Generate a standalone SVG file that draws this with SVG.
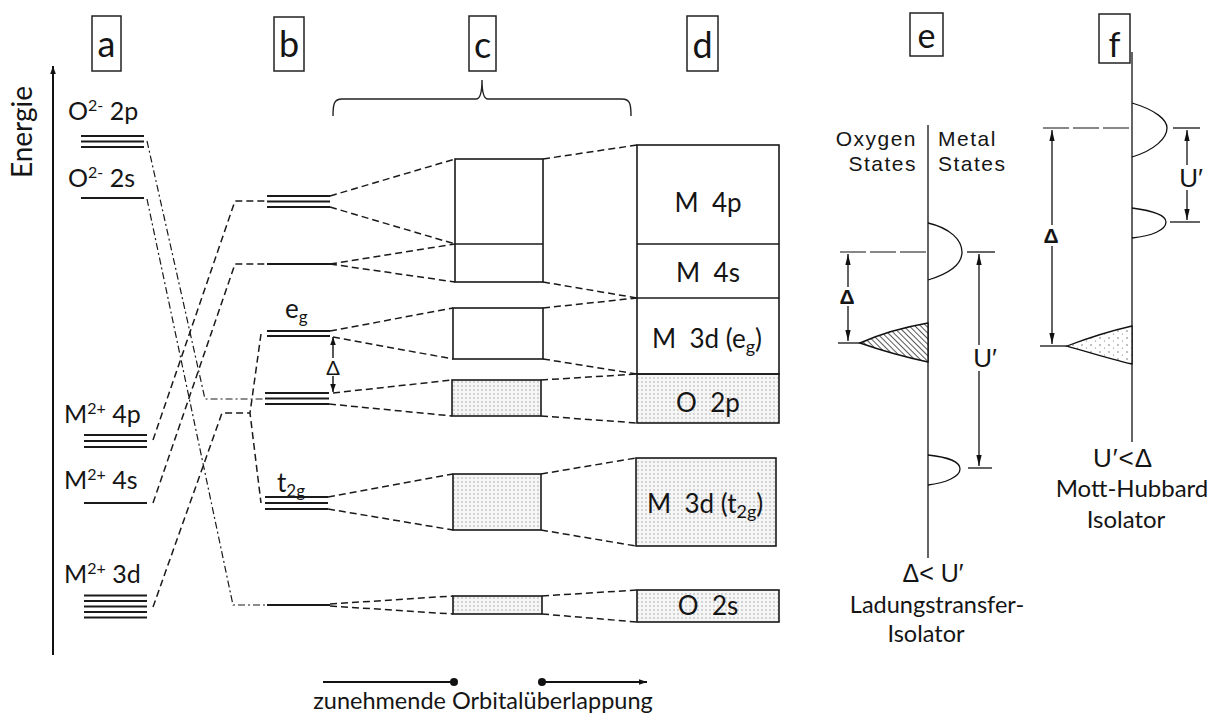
<svg xmlns="http://www.w3.org/2000/svg" width="1217" height="716" viewBox="0 0 1217 716">
  <style>
    .cal { font-family: Lato, "Open Sans", "Liberation Sans", sans-serif; fill: #151515; }
    .hel { font-family: "Liberation Sans", Arial, sans-serif; fill: #151515; }
    .box { fill: none; stroke: #222; stroke-width: 1.5; }
    .lvl { stroke: #1a1a1a; stroke-width: 2; fill: none; }
    .dash { stroke: #1a1a1a; stroke-width: 1.5; fill: none; stroke-dasharray: 7 4; }
    .dashdot { stroke: #1a1a1a; stroke-width: 1.2; fill: none; stroke-dasharray: 7 3 2 3; }
    .band { stroke: #1a1a1a; stroke-width: 1.6; }
    .thin { stroke: #111; stroke-width: 1.3; fill: none; }
    .longdash { stroke: #111; stroke-width: 1.2; fill: none; stroke-dasharray: 26 4; }
    .ion { font-size: 25px; }
    .bandlbl { font-size: 26px; }
    .states { font-size: 21px; letter-spacing: 1.5px; }
  </style>
  <defs>
    <pattern id="dots" width="4" height="4" patternUnits="userSpaceOnUse">
      <rect width="4" height="4" fill="#f6f6f6"/>
      <circle cx="2" cy="2" r="0.75" fill="#a0a0a0"/>
    </pattern>
    <pattern id="hatch" width="4" height="4" patternUnits="userSpaceOnUse" patternTransform="rotate(-45)">
      <rect width="4" height="4" fill="#fff"/>
      <line x1="0" y1="0" x2="0" y2="4" stroke="#111" stroke-width="1.4"/>
    </pattern>
    <pattern id="stipple" width="9" height="7" patternUnits="userSpaceOnUse">
      <rect width="9" height="7" fill="#fff"/>
      <circle cx="2" cy="2" r="0.7" fill="#555"/>
      <circle cx="6.5" cy="5" r="0.6" fill="#777"/>
    </pattern>
    <marker id="ah" viewBox="0 0 10 10" refX="10" refY="5" markerWidth="8" markerHeight="8" orient="auto-start-reverse" markerUnits="userSpaceOnUse">
      <path d="M0,1.5 L10,5 L0,8.5 Z" fill="#111"/>
    </marker>
    <marker id="ahn" viewBox="0 0 10 10" refX="10" refY="5" markerWidth="11" markerHeight="11" orient="auto-start-reverse" markerUnits="userSpaceOnUse">
      <path d="M0,2.6 L10,5 L0,7.4 Z" fill="#111"/>
    </marker>
  </defs>
  <rect width="1217" height="716" fill="#fff"/>

  <!-- column headers -->
  <g id="hdr-a"><rect class="box" x="92" y="16" width="29" height="55"/><text class="cal" x="106.5" y="57" font-size="36" text-anchor="middle">a</text></g>
  <g id="hdr-b"><rect class="box" x="274" y="17" width="30" height="54"/><text class="cal" x="289" y="57" font-size="36" text-anchor="middle">b</text></g>
  <g id="hdr-c"><rect class="box" x="469" y="16" width="27" height="55"/><text class="cal" x="482.5" y="58" font-size="36" text-anchor="middle">c</text></g>
  <g id="hdr-d"><rect class="box" x="687" y="16" width="31" height="55"/><text class="cal" x="702.5" y="58" font-size="36" text-anchor="middle">d</text></g>
  <g id="hdr-e"><rect class="box" x="910" y="13" width="33" height="43" stroke-width="2"/><text class="cal" x="926.5" y="48" font-size="34" text-anchor="middle">e</text></g>
  <g id="hdr-f"><rect class="box" x="1099" y="14" width="31" height="49" stroke-width="2.2"/><text class="cal" x="1114.5" y="57" font-size="34" text-anchor="middle">f</text></g>

  <!-- energy axis -->
  <g id="axis">
    <line x1="53" y1="655" x2="53" y2="66" stroke="#111" stroke-width="2" marker-end="url(#ah)"/>
    <text class="cal" font-size="28" text-anchor="middle" transform="translate(32,132) rotate(-90)">Energie</text>
  </g>

  <!-- column a: free ion levels -->
  <g id="ion-O2p">
    <text class="cal ion" x="68" y="120">O<tspan font-size="16" dy="-9">2-</tspan><tspan dy="9"> 2p</tspan></text>
    <line class="lvl" x1="81" y1="136" x2="144" y2="136"/>
    <line class="lvl" x1="81" y1="141.5" x2="144" y2="141.5"/>
    <line class="lvl" x1="81" y1="147" x2="144" y2="147"/>
  </g>
  <g id="ion-O2s">
    <text class="cal ion" x="68" y="187">O<tspan font-size="16" dy="-9">2-</tspan><tspan dy="9"> 2s</tspan></text>
    <line class="lvl" x1="81" y1="198" x2="144" y2="198" stroke-width="1.5"/>
  </g>
  <g id="ion-M4p">
    <text class="cal ion" x="64" y="423">M<tspan font-size="16" dy="-9">2+</tspan><tspan dy="9"> 4p</tspan></text>
    <line class="lvl" x1="84" y1="435" x2="147" y2="435"/>
    <line class="lvl" x1="84" y1="441" x2="147" y2="441"/>
    <line class="lvl" x1="84" y1="447" x2="147" y2="447"/>
  </g>
  <g id="ion-M4s">
    <text class="cal ion" x="64" y="489">M<tspan font-size="16" dy="-9">2+</tspan><tspan dy="9"> 4s</tspan></text>
    <line class="lvl" x1="84" y1="503" x2="147" y2="503"/>
  </g>
  <g id="ion-M3d">
    <text class="cal ion" x="64" y="583">M<tspan font-size="16" dy="-9">2+</tspan><tspan dy="9"> 3d</tspan></text>
    <line class="lvl" x1="84" y1="595.5" x2="147" y2="595.5"/>
    <line class="lvl" x1="84" y1="601" x2="147" y2="601"/>
    <line class="lvl" x1="84" y1="606.5" x2="147" y2="606.5"/>
    <line class="lvl" x1="84" y1="612" x2="147" y2="612"/>
    <line class="lvl" x1="84" y1="617.5" x2="147" y2="617.5"/>
  </g>

  <!-- column b: cluster levels -->
  <g id="mo-4p">
    <line class="lvl" x1="267" y1="196" x2="330" y2="196"/>
    <line class="lvl" x1="267" y1="201.5" x2="330" y2="201.5"/>
    <line class="lvl" x1="267" y1="207" x2="330" y2="207"/>
  </g>
  <g id="mo-4s"><line class="lvl" x1="267" y1="264" x2="330" y2="264"/></g>
  <g id="mo-eg">
    <text class="cal" x="285" y="318" font-size="26">e<tspan font-size="17" dy="5">g</tspan></text>
    <line class="lvl" x1="267" y1="331" x2="330" y2="331"/>
    <line class="lvl" x1="267" y1="336" x2="330" y2="336"/>
  </g>
  <g id="mo-O2p">
    <line class="lvl" x1="265" y1="393" x2="329" y2="393"/>
    <line class="lvl" x1="265" y1="398.5" x2="329" y2="398.5"/>
    <line class="lvl" x1="265" y1="404" x2="329" y2="404"/>
  </g>
  <g id="mo-t2g">
    <text class="cal" x="277" y="492" font-size="26">t<tspan font-size="17" dy="5">2g</tspan></text>
    <line class="lvl" x1="265" y1="497" x2="328" y2="497"/>
    <line class="lvl" x1="265" y1="503" x2="328" y2="503"/>
    <line class="lvl" x1="265" y1="509" x2="328" y2="509"/>
  </g>
  <g id="mo-O2s"><line class="lvl" x1="267" y1="605" x2="330" y2="605"/></g>
  <g id="split-delta">
    <line x1="333" y1="337" x2="333" y2="358" stroke="#111" stroke-width="1.4" marker-start="url(#ah)"/>
    <line x1="333" y1="376" x2="333" y2="392" stroke="#111" stroke-width="1.4" marker-end="url(#ah)"/>
    <text class="cal" x="333" y="375" font-size="20" text-anchor="middle">Δ</text>
  </g>

  <!-- column c: bands -->
  <g id="band-c-4sp">
    <rect class="band" x="455" y="159" width="88" height="123" fill="#fff"/>
    <line class="band" x1="455" y1="244" x2="543" y2="244"/>
  </g>
  <g id="band-c-eg"><rect class="band" x="453" y="308" width="90" height="51" fill="#fff"/></g>
  <g id="band-c-O2p"><rect class="band" x="452" y="380" width="89" height="36" fill="url(#dots)"/></g>
  <g id="band-c-t2g"><rect class="band" x="453" y="474" width="88" height="56" fill="url(#dots)"/></g>
  <g id="band-c-O2s"><rect class="band" x="453" y="596" width="89" height="18" fill="url(#dots)"/></g>

  <!-- brace over c and d -->
  <g id="brace">
    <path d="M333,116 C333,104 334,99 342,99 L476,99 C480,99 482,94 482,80 C482,94 484,99 488,99 L622,99 C630,99 631,104 631,116" fill="none" stroke="#222" stroke-width="1.4"/>
  </g>

  <!-- column d: broadened bands -->
  <g id="band-d-upper">
    <rect class="band" x="637" y="374" width="142" height="49" fill="url(#dots)"/>
    <rect class="band" x="637" y="145" width="142" height="229" fill="none"/>
    <line class="band" x1="637" y1="244" x2="779" y2="244"/>
    <line class="band" x1="637" y1="298" x2="779" y2="298"/>
    <text class="cal bandlbl" x="708" y="212" text-anchor="middle" xml:space="preserve">M  4p</text>
    <text class="cal bandlbl" x="708" y="282" text-anchor="middle" xml:space="preserve">M  4s</text>
    <text class="cal bandlbl" x="652" y="348" xml:space="preserve">M  3d (e<tspan font-size="18" dy="5">g</tspan><tspan dy="-5">)</tspan></text>
    <text class="cal bandlbl" x="708" y="412" text-anchor="middle" xml:space="preserve">O  2p</text>
  </g>
  <g id="band-d-t2g">
    <rect class="band" x="636" y="458" width="140" height="88" fill="url(#dots)"/>
    <text class="cal bandlbl" x="647" y="513" xml:space="preserve">M  3d (t<tspan font-size="18" dy="5">2g</tspan><tspan dy="-5">)</tspan></text>
  </g>
  <g id="band-d-O2s">
    <rect class="band" x="637" y="590" width="142" height="32" fill="url(#dots)"/>
    <text class="cal bandlbl" x="708" y="615" text-anchor="middle" xml:space="preserve">O  2s</text>
  </g>

  <!-- correlation lines -->
  <g id="connectors">
    <!-- a to b -->
    <polyline class="dashdot" points="147,141 205,399 265,399"/>
    <polyline class="dashdot" points="147,199 233,605 267,605"/>
    <polyline class="dash" points="153,440 235,201 267,201"/>
    <polyline class="dash" points="153,503 235,264 267,264"/>
    <polyline class="dash" points="153,607 222,413 250,413"/>
    <polyline class="dash" points="261,334 250,413 261,503"/>
    <!-- b to c -->
    <line class="dash" x1="330" y1="196" x2="455" y2="159"/>
    <line class="dash" x1="330" y1="207" x2="455" y2="244"/>
    <line class="dash" x1="330" y1="264" x2="455" y2="244"/>
    <line class="dash" x1="330" y1="264" x2="455" y2="282"/>
    <line class="dash" x1="330" y1="331" x2="453" y2="308"/>
    <line class="dash" x1="333" y1="337" x2="453" y2="359"/>
    <line class="dash" x1="333" y1="393" x2="452" y2="380"/>
    <line class="dash" x1="329" y1="404" x2="452" y2="416"/>
    <line class="dash" x1="328" y1="497" x2="453" y2="474"/>
    <line class="dash" x1="328" y1="509" x2="453" y2="530"/>
    <line class="dash" x1="330" y1="604" x2="453" y2="596"/>
    <line class="dash" x1="330" y1="606" x2="453" y2="614"/>
    <!-- c to d -->
    <line class="dash" x1="543" y1="159" x2="637" y2="145"/>
    <line class="dash" x1="543" y1="282" x2="637" y2="298"/>
    <line class="dash" x1="543" y1="308" x2="637" y2="298"/>
    <line class="dash" x1="543" y1="359" x2="637" y2="374"/>
    <line class="dash" x1="541" y1="380" x2="637" y2="374"/>
    <line class="dash" x1="541" y1="416" x2="637" y2="423"/>
    <line class="dash" x1="541" y1="474" x2="636" y2="458"/>
    <line class="dash" x1="541" y1="530" x2="636" y2="546"/>
    <line class="dash" x1="542" y1="596" x2="637" y2="590"/>
    <line class="dash" x1="542" y1="614" x2="637" y2="622"/>
  </g>

  <!-- overlap axis -->
  <g id="overlap">
    <line x1="323" y1="682" x2="454" y2="682" stroke="#111" stroke-width="2"/>
    <circle cx="454" cy="682" r="4" fill="#111"/>
    <circle cx="542" cy="682" r="4" fill="#111"/>
    <line x1="542" y1="682" x2="647" y2="682" stroke="#111" stroke-width="2" marker-end="url(#ah)"/>
    <text class="cal" x="483" y="709" font-size="23.5" text-anchor="middle">zunehmende Orbitalüberlappung</text>
  </g>

  <!-- panel e: charge-transfer insulator -->
  <g id="panel-e">
    <line class="thin" x1="928" y1="125" x2="928" y2="558"/>
    <text class="hel states" x="917" y="146" text-anchor="end">Oxygen</text>
    <text class="hel states" x="917" y="171" text-anchor="end">States</text>
    <text class="hel states" x="938" y="146">Metal</text>
    <text class="hel states" x="938" y="171">States</text>
    <path class="thin" d="M928,223 C950,228 962,240 962,252 C962,265 948,274 928,280"/>
    <path class="thin" d="M928,455 C948,457 960,462 960,469 C960,477 945,483 928,485"/>
    <path d="M928,323 C905,327 880,334 860,343 C880,350 905,357 928,362 Z" fill="url(#hatch)" stroke="#111" stroke-width="1.4"/>
    <line class="longdash" x1="840" y1="252" x2="926" y2="252"/>
    <line class="thin" x1="967" y1="252" x2="995" y2="252"/>
    <line class="thin" x1="838" y1="343" x2="862" y2="343"/>
    <line class="thin" x1="968" y1="468" x2="992" y2="468"/>
    <line class="thin" x1="848" y1="254" x2="848" y2="287" marker-start="url(#ahn)"/>
    <line class="thin" x1="848" y1="306" x2="848" y2="341" marker-end="url(#ahn)"/>
    <text class="hel" x="847" y="304" font-size="21" font-weight="bold" text-anchor="middle">Δ</text>
    <line class="thin" x1="979" y1="254" x2="979" y2="345" marker-start="url(#ahn)"/>
    <line class="thin" x1="979" y1="371" x2="979" y2="466" marker-end="url(#ahn)"/>
    <text class="hel" x="985" y="367" font-size="26" text-anchor="middle">U′</text>
    <text class="hel" x="933" y="582" font-size="25" text-anchor="middle">Δ&lt; U′</text>
    <text class="cal" x="937" y="613" font-size="23.5" text-anchor="middle" fill="#1b1b2e">Ladungstransfer-</text>
    <text class="cal" x="926" y="642" font-size="23.5" text-anchor="middle" fill="#1b1b2e">Isolator</text>
  </g>

  <!-- panel f: Mott-Hubbard insulator -->
  <g id="panel-f">
    <line class="thin" x1="1132" y1="52" x2="1132" y2="442"/>
    <path class="thin" d="M1132,103 C1156,110 1167,120 1167,128 C1167,138 1155,150 1132,157"/>
    <path class="thin" d="M1132,208 C1155,211 1166,216 1166,222 C1166,230 1152,236 1132,238"/>
    <path d="M1132,326 C1110,331 1088,338 1067,346 C1088,352 1110,359 1132,364 Z" fill="url(#stipple)" stroke="#111" stroke-width="1.3"/>
    <line class="longdash" x1="1043" y1="128" x2="1130" y2="128"/>
    <line class="thin" x1="1173" y1="128" x2="1200" y2="128"/>
    <line class="thin" x1="1170" y1="222" x2="1200" y2="222"/>
    <line class="thin" x1="1040" y1="346" x2="1067" y2="346"/>
    <line class="thin" x1="1052" y1="130" x2="1052" y2="225" marker-start="url(#ahn)"/>
    <line class="thin" x1="1052" y1="246" x2="1052" y2="344" marker-end="url(#ahn)"/>
    <text class="hel" x="1051" y="243" font-size="21" font-weight="bold" text-anchor="middle">Δ</text>
    <line class="thin" x1="1187" y1="130" x2="1187" y2="165" marker-start="url(#ahn)"/>
    <line class="thin" x1="1187" y1="190" x2="1187" y2="220" marker-end="url(#ahn)"/>
    <text class="hel" x="1191" y="187" font-size="26" text-anchor="middle">U′</text>
    <text class="hel" x="1123" y="467" font-size="26" text-anchor="middle" letter-spacing="1">U′&lt;Δ</text>
    <text class="cal" x="1132" y="497" font-size="24" text-anchor="middle" fill="#1b1b2e">Mott-Hubbard</text>
    <text class="cal" x="1126" y="528" font-size="24" text-anchor="middle" fill="#1b1b2e">Isolator</text>
  </g>
</svg>
